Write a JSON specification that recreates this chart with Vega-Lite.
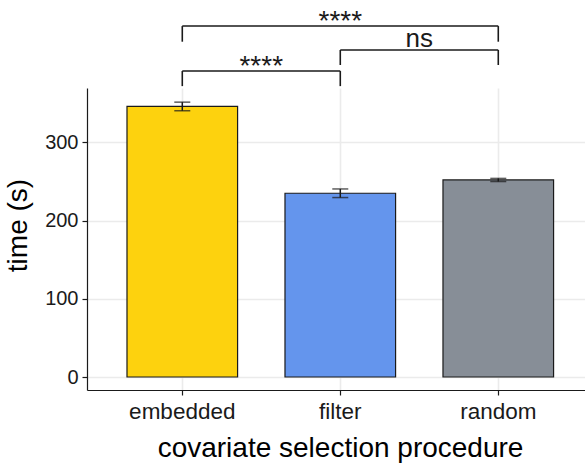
{
  "$schema": "https://vega.github.io/schema/vega-lite/v6.json",
  "width": 498,
  "height": 302,
  "autosize": {"type": "none"},
  "padding": {"left": 87, "top": 88, "right": 0, "bottom": 74},
  "background": "white",
  "config": {
    "view": {"stroke": null},
    "font": "Liberation Sans",
    "axis": {
      "domainColor": "#1a1a1a",
      "domainWidth": 1.2,
      "tickColor": "#1a1a1a",
      "tickWidth": 1.2,
      "tickSize": 5,
      "labelColor": "#1a1a1a",
      "titleColor": "#000000",
      "titleFontWeight": "normal",
      "titleFontSize": 28,
      "grid": true,
      "gridColor": "#EBEBEB",
      "gridWidth": 1.6
    }
  },
  "datasets": {
    "bars": [
      {"procedure": "embedded", "time": 346, "lo": 340.5, "hi": 351.5},
      {"procedure": "filter", "time": 235, "lo": 229.5, "hi": 240.5},
      {"procedure": "random", "time": 252, "lo": 250, "hi": 254}
    ],
    "brackets": [
      {"from": "embedded", "to": "filter", "y": 391.3, "ytick": 372},
      {"from": "filter", "to": "random", "y": 418.2, "ytick": 399},
      {"from": "embedded", "to": "random", "y": 448.8, "ytick": 428.8}
    ],
    "labels": [
      {"id": "ef", "anchor": "embedded", "label": "****", "y": 386.5},
      {"id": "fr", "anchor": "filter", "label": "ns", "y": 422.4},
      {"id": "er", "anchor": "filter", "label": "****", "y": 444}
    ]
  },
  "layer": [
    {
      "data": {"name": "bars"},
      "mark": {"type": "bar", "stroke": "#1a1a1a", "strokeWidth": 1.2},
      "encoding": {
        "x": {
          "field": "procedure",
          "type": "nominal",
          "sort": ["embedded", "filter", "random"],
          "scale": {"paddingInner": 0.3, "paddingOuter": 0.226, "align": 0.56},
          "axis": {
            "title": "covariate selection procedure",
            "labelAngle": 0,
            "labelFontSize": 22.5,
            "labelPadding": 5,
            "titleX": 253,
            "titleY": 66.7,
            "titleBaseline": "alphabetic"
          }
        },
        "y": {
          "field": "time",
          "type": "quantitative",
          "scale": {"domain": [-16.6, 369.6], "nice": false, "zero": false},
          "axis": {
            "title": "time (s)",
            "values": [0, 100, 200, 300],
            "labelFontSize": 20,
            "labelPadding": 4,
            "titleAngle": 270,
            "titleX": -61,
            "titleY": 137,
            "titleBaseline": "alphabetic"
          }
        },
        "y2": {"datum": 0},
        "color": {
          "field": "procedure",
          "type": "nominal",
          "scale": {"domain": ["embedded", "filter", "random"], "range": ["#FDD20E", "#6495ED", "#878E97"]},
          "legend": null
        }
      }
    },
    {
      "data": {"name": "bars"},
      "mark": {"type": "rule", "color": "#1a1a1a", "strokeWidth": 1.5},
      "encoding": {
        "x": {"field": "procedure", "type": "nominal", "sort": ["embedded", "filter", "random"]},
        "y": {"field": "lo", "type": "quantitative"},
        "y2": {"field": "hi"}
      }
    },
    {
      "data": {"name": "bars"},
      "mark": {"type": "tick", "orient": "horizontal", "size": 16, "thickness": 1.5, "color": "#1a1a1a"},
      "encoding": {
        "x": {"field": "procedure", "type": "nominal", "sort": ["embedded", "filter", "random"]},
        "y": {"field": "lo", "type": "quantitative"}
      }
    },
    {
      "data": {"name": "bars"},
      "mark": {"type": "tick", "orient": "horizontal", "size": 16, "thickness": 1.5, "color": "#1a1a1a"},
      "encoding": {
        "x": {"field": "procedure", "type": "nominal", "sort": ["embedded", "filter", "random"]},
        "y": {"field": "hi", "type": "quantitative"}
      }
    },
    {
      "data": {"name": "brackets"},
      "mark": {"type": "rule", "color": "#1a1a1a", "strokeWidth": 1.6},
      "encoding": {
        "x": {"field": "from", "type": "nominal", "sort": ["embedded", "filter", "random"]},
        "x2": {"field": "to"},
        "y": {"field": "y", "type": "quantitative"}
      }
    },
    {
      "data": {"name": "brackets"},
      "mark": {"type": "rule", "color": "#1a1a1a", "strokeWidth": 1.6},
      "encoding": {
        "x": {"field": "from", "type": "nominal", "sort": ["embedded", "filter", "random"]},
        "y": {"field": "ytick", "type": "quantitative"},
        "y2": {"field": "y"}
      }
    },
    {
      "data": {"name": "brackets"},
      "mark": {"type": "rule", "color": "#1a1a1a", "strokeWidth": 1.6},
      "encoding": {
        "x": {"field": "to", "type": "nominal", "sort": ["embedded", "filter", "random"]},
        "y": {"field": "ytick", "type": "quantitative"},
        "y2": {"field": "y"}
      }
    },
    {
      "data": {"name": "labels"},
      "transform": [{"filter": "datum.id === 'er'"}],
      "mark": {"type": "text", "fontSize": 28, "baseline": "alphabetic", "align": "center", "color": "#1a1a1a"},
      "encoding": {
        "x": {"field": "anchor", "type": "nominal", "sort": ["embedded", "filter", "random"], "bandPosition": 0.5},
        "y": {"field": "y", "type": "quantitative"},
        "text": {"field": "label"}
      }
    },
    {
      "data": {"name": "labels"},
      "transform": [{"filter": "datum.id === 'ef'"}],
      "mark": {"type": "text", "fontSize": 28, "baseline": "alphabetic", "align": "center", "color": "#1a1a1a"},
      "encoding": {
        "x": {"field": "anchor", "type": "nominal", "sort": ["embedded", "filter", "random"], "bandPosition": 1.214},
        "y": {"field": "y", "type": "quantitative"},
        "text": {"field": "label"}
      }
    },
    {
      "data": {"name": "labels"},
      "transform": [{"filter": "datum.id === 'fr'"}],
      "mark": {"type": "text", "fontSize": 26, "baseline": "alphabetic", "align": "center", "color": "#1a1a1a"},
      "encoding": {
        "x": {"field": "anchor", "type": "nominal", "sort": ["embedded", "filter", "random"], "bandPosition": 1.214},
        "y": {"field": "y", "type": "quantitative"},
        "text": {"field": "label"}
      }
    }
  ]
}
